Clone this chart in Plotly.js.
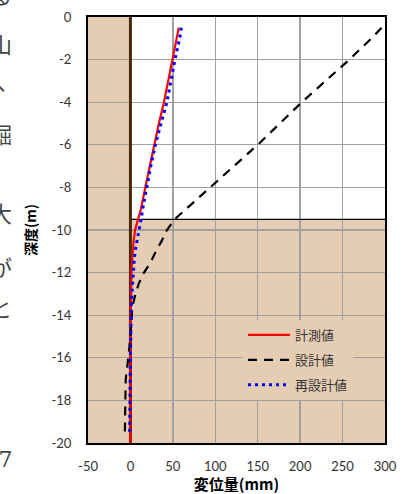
<!DOCTYPE html>
<html>
<head>
<meta charset="utf-8">
<script src="https://cdn.plot.ly/plotly-3.0.1.min.js"></script>
<style>
html,body{margin:0;padding:0;background:#fff;}
#chart{width:409px;height:494px;}
</style>
</head>
<body>
<div id="chart"></div>
<script>
// ---- data ----
var depth = [-0.5,-1,-2,-3,-4,-5,-6,-7,-8,-9,-9.5,-10,-10.5,-11,-11.5,-12,-12.5,-13,-13.5,-14,-15,-16,-17,-18,-19,-19.5,-20];
var measured = [57,54.5,50,45,39.5,33.5,28,23,17.5,12.5,8.6,5.5,3.8,2.5,1.8,1.3,0.9,0.6,0.4,0.3,0.1,0,0,0,0,0,0];
var design = [296,284,258,230,202,176,150,122,94,66,52,43,37,30,24,16,10,6,3,1.5,0,-2.5,-5.5,-6,-6.2,-6.5,null];
var redesign = [60,58,52.5,48,43,36,29.5,24,19,14.5,12.5,10,7.5,5.5,4.3,3.3,2.5,1.8,1.2,0.8,0.3,0,-0.3,-0.5,-0.8,-1,null];
var seriesNames = ['計測値','設計値','再設計値'];
var xTicks = [-50,0,50,100,150,200,250,300];
var yTicks = [0,-2,-4,-6,-8,-10,-12,-14,-16,-18,-20];
var excavationDepth = -9.5;
var wallX = 0;
var xTitle = '変位量(mm)';
var yTitle = '深度(m)';
var sideText = [['る',-6],['山',43],['、',86],['掘',133],['大',212],['が',266],['と',307],['-7',459]];

// ---- layout helpers ----
var W = 409, H = 494, L = 88, R = 385, T = 17, B = 443;
function px2x(p){ return (p - L)/(R - L); }
function py2y(p){ return (B - p)/(B - T); }

var tan = '#E5CDB3';
var jp = '"Noto Sans CJK JP", sans-serif';
var num = 'Lato, "Noto Sans", sans-serif';

var traces = [
  {x: measured, y: depth, name: seriesNames[0], mode: 'lines', legendgroup: 'g1',
   line: {color: '#FF0000', width: 2.2}},
  {x: design, y: depth, name: seriesNames[1], mode: 'lines', legendgroup: 'g2',
   line: {color: '#000000', width: 2.2, dash: '9px,7px'}},
  {x: redesign, y: depth, name: seriesNames[2], mode: 'lines', legendgroup: 'g3',
   line: {color: '#0000FF', width: 3, dash: '3px,4px'}}
];

var annotations = sideText.map(function(s){
  var dx = s[0] === '、' ? 7 : 0;
  var dy = s[0] === '、' ? -6 : 0;
  return {xref:'paper', yref:'paper', x: px2x(14 + dx), y: py2y(s[1] + dy),
    xanchor:'right', yanchor:'middle', showarrow:false, text: s[0],
    font:{family: s[0]==='-7' ? '"DejaVu Serif", serif' : jp, size: 22, color:'#444'}};
});

var layout = {
  width: W, height: H,
  margin: {l: L, r: W - R, t: T, b: H - B, pad: 0},
  paper_bgcolor: '#ffffff',
  plot_bgcolor: tan,
  showlegend: true,
  legend: {x: px2x(243), y: py2y(320), xanchor: 'left', yanchor: 'top',
    bgcolor: tan, borderwidth: 0, itemwidth: 42, traceorder: 'grouped',
    font: {family: jp, size: 13, color: '#333'}, tracegroupgap: 5},
  xaxis: {range: [-50, 300], tickvals: xTicks, ticktext: xTicks.map(String),
    showgrid: true, gridcolor: '#A0A0A0', gridwidth: 1.3, zeroline: false,
    showline: true, mirror: true, linecolor: '#000', linewidth: 2,
    ticks: '', ticklabelstandoff: 10, tickfont: {family: num, size: 13, color: '#333'},
    title: {text: '<b>' + xTitle + '</b>', standoff: 11,
      font: {family: jp, size: 15, color: '#000'}}},
  yaxis: {range: [-20, 0], tickvals: yTicks, ticktext: yTicks.map(String),
    showgrid: true, gridcolor: '#A0A0A0', gridwidth: 1.3, zeroline: false,
    showline: true, mirror: true, linecolor: '#000', linewidth: 2,
    ticks: '', ticklabelstandoff: 12, tickfont: {family: num, size: 13, color: '#333'},
    title: {text: '<b>' + yTitle + '</b>', standoff: 12,
      font: {family: jp, size: 14, color: '#000'}}},
  shapes: [
    {type: 'rect', xref: 'x', yref: 'y', x0: wallX, x1: 300, y0: excavationDepth, y1: 0,
     fillcolor: '#ffffff', line: {width: 0}, layer: 'below'},
    {type: 'line', xref: 'x', yref: 'y', x0: wallX, x1: 300, y0: excavationDepth, y1: excavationDepth,
     line: {color: '#000', width: 1.3}, layer: 'between'},
    {type: 'line', xref: 'x', yref: 'y', x0: wallX, x1: wallX, y0: -20, y1: 0,
     line: {color: '#4A2806', width: 3}, layer: 'between'}
  ],
  annotations: annotations
};

Plotly.newPlot('chart', traces, layout, {staticPlot: true, displayModeBar: false});
</script>
</body>
</html>
